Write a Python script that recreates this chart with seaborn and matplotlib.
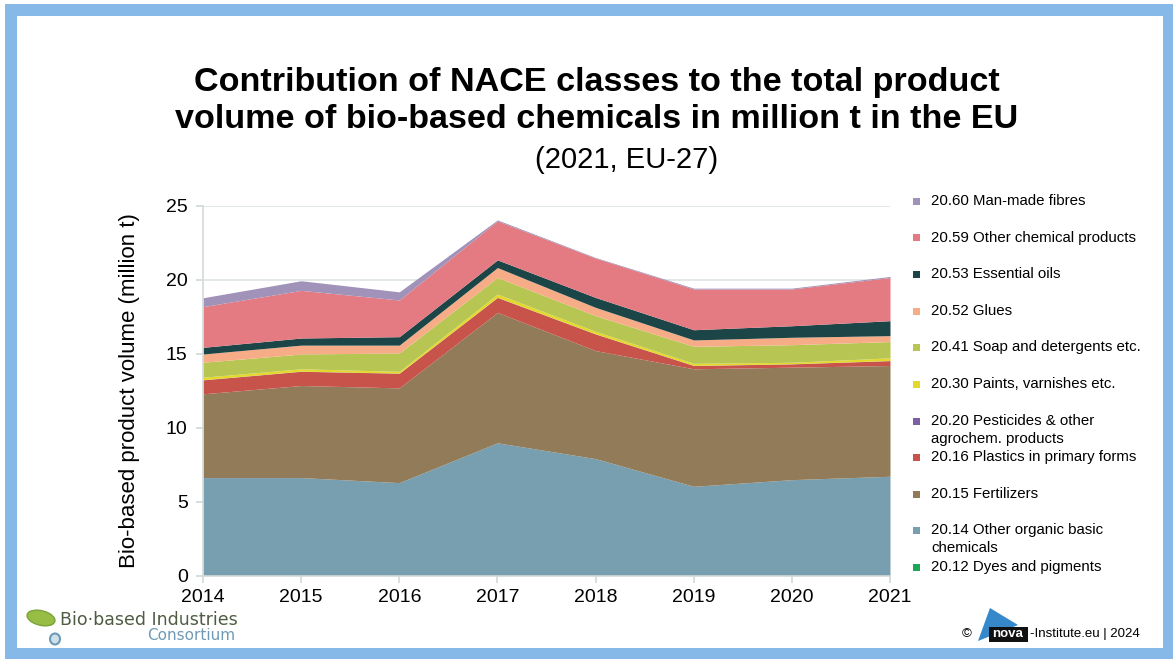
import matplotlib.pyplot as plt
import numpy as np
import seaborn as sns
from matplotlib.patches import Rectangle, Ellipse, Polygon

# data (million t)
years = [2014, 2015, 2016, 2017, 2018, 2019, 2020, 2021]
dyes = [0.03, 0.03, 0.03, 0.03, 0.03, 0.03, 0.03, 0.03]
other_organic = [6.62, 6.62, 6.28, 8.97, 7.90, 6.03, 6.48, 6.71]
fertilizers = [5.66, 6.22, 6.40, 8.81, 7.30, 7.94, 7.60, 7.48]
plastics = [0.94, 0.96, 0.99, 1.01, 1.12, 0.22, 0.22, 0.33]
pesticides = [0.01, 0.01, 0.01, 0.01, 0.01, 0.01, 0.01, 0.01]
paints = [0.17, 0.16, 0.12, 0.22, 0.17, 0.14, 0.10, 0.18]
soap = [1.01, 1.00, 1.24, 1.12, 1.06, 1.15, 1.19, 1.10]
glues = [0.56, 0.60, 0.53, 0.67, 0.56, 0.43, 0.50, 0.40]
essential_oils = [0.45, 0.48, 0.57, 0.52, 0.67, 0.69, 0.78, 1.01]
other_chemical = [2.75, 3.22, 2.48, 2.63, 2.66, 2.75, 2.48, 2.92]
fibres = [0.60, 0.65, 0.55, 0.07, 0.04, 0.06, 0.06, 0.07]

labels = ["20.12 Dyes and pigments",
          "20.14 Other organic basic\nchemicals",
          "20.15 Fertilizers",
          "20.16 Plastics in primary forms",
          "20.20 Pesticides & other\nagrochem. products",
          "20.30 Paints, varnishes etc.",
          "20.41 Soap and detergents etc.",
          "20.52 Glues",
          "20.53 Essential oils",
          "20.59 Other chemical products",
          "20.60 Man-made fibres"]
colors = ["#1ba65c", "#789fb0", "#927b58", "#c8534b", "#7d5fa5", "#e4d92b",
          "#b7c653", "#f6ad87", "#1c4547", "#e47b83", "#a092b8"]

sns.set_theme(style="white")
plt.rcParams['font.family'] = ['Liberation Sans', 'DejaVu Sans']
plt.rcParams['text.color'] = 'black'
plt.rcParams['axes.labelcolor'] = 'black'
plt.rcParams['xtick.color'] = 'black'
plt.rcParams['ytick.color'] = 'black'

W, H = 1173, 659
fig = plt.figure(figsize=(W / 100, H / 100), dpi=100)
fig.patch.set_facecolor("white")

# blue slide frame
fig.patches.append(Rectangle((11 / W, 1 - 654 / H), 1158 / W, 644 / H, transform=fig.transFigure,
                             fill=False, edgecolor="#86b8e8", linewidth=8.6))

ax = fig.add_axes([203 / W, 83 / H, 687 / W, 370 / H])
series = [dyes, other_organic, fertilizers, plastics, pesticides, paints, soap,
          glues, essential_oils, other_chemical, fibres]
ax.stackplot(years, *series, colors=colors, linewidth=0)

ax.set_xlim(2014, 2021)
ax.set_ylim(0, 25)
ax.set_xticks(years)
ax.set_yticks([0, 5, 10, 15, 20, 25])
ax.tick_params(axis='both', labelsize=14, labelcolor="black")
ax.tick_params(axis='x', direction='out', length=5, color="#d3dada", bottom=True, pad=4)
ax.tick_params(axis='y', direction='out', length=5, color="#d3dada", left=True, pad=6)
ax.yaxis.grid(True, color="#dde4e4", linewidth=1.2)
ax.set_axisbelow(True)
sns.despine(ax=ax)
for s in ['left', 'bottom']:
    ax.spines[s].set_color("#d3dada")
    ax.spines[s].set_linewidth(1.2)
ax.set_ylabel("Bio-based product volume (million t)", fontsize=16, labelpad=19)

# titles
fig.text(597 / W, 1 - 101 / H,
         "Contribution of NACE classes to the total product\nvolume of bio-based chemicals in million t in the EU",
         ha='center', va='center', fontsize=24.6, fontweight='bold', linespacing=1.25)
fig.text(627 / W, 1 - 160 / H, "(2021, EU-27)", ha='center', va='center', fontsize=21)

# legend, top to bottom
ys = [201, 238, 274, 311, 347, 384, 421, 457, 494, 530, 567]
for y, lab, col in zip(ys, labels[::-1], colors[::-1]):
    fig.patches.append(Rectangle((913 / W, 1 - (y + 3.5) / H), 7 / W, 7 / H,
                                 transform=fig.transFigure, facecolor=col, edgecolor='none'))
    for k, line in enumerate(lab.split("\n")):
        fig.text(931 / W, 1 - (y + 17.5 * k) / H, line, ha='left', va='center', fontsize=10.8)

# Bio-based Industries Consortium logo
fig.patches.append(Ellipse((41 / W, 1 - 618 / H), 32 / W, 13 / H, angle=-45,
                           transform=fig.transFigure, facecolor="#98bd45", edgecolor="#7aa33a",
                           linewidth=1))
fig.patches.append(Ellipse((55 / W, 1 - 639 / H), 10 / W, 11 / H,
                           transform=fig.transFigure, facecolor="#cfe0ea", edgecolor="#6d9bb6", linewidth=1.5))
fig.text(60 / W, 1 - 620 / H, "Bio\u00b7based Industries", family='DejaVu Sans', fontsize=12.5,
         color="#4f5c43", ha='left', va='center')
fig.text(235 / W, 1 - 636 / H, "Consortium", family='DejaVu Sans', fontsize=11,
         color="#6e9ab5", ha='right', va='center')

# nova-Institute logo
fig.text(962 / W, 1 - 634 / H, "\u00a9", fontsize=9.5, ha='left', va='center')
fig.patches.append(Polygon([(978 / W, 1 - 641 / H), (990 / W, 1 - 608 / H), (1018 / W, 1 - 625 / H)],
                           closed=True, transform=fig.transFigure, facecolor="#3589cb", edgecolor='none'))
fig.patches.append(Rectangle((989 / W, 1 - 642 / H), 39 / W, 15 / H, transform=fig.transFigure,
                             facecolor="#111111", edgecolor='none'))
fig.text(1008 / W, 1 - 634 / H, "nova", color="white", fontsize=9.5, fontweight='bold',
         ha='center', va='center')
fig.text(1030 / W, 1 - 634 / H, "-Institute.eu | 2024", fontsize=9.5, ha='left', va='center')

fig.savefig("out.png", dpi=100)
